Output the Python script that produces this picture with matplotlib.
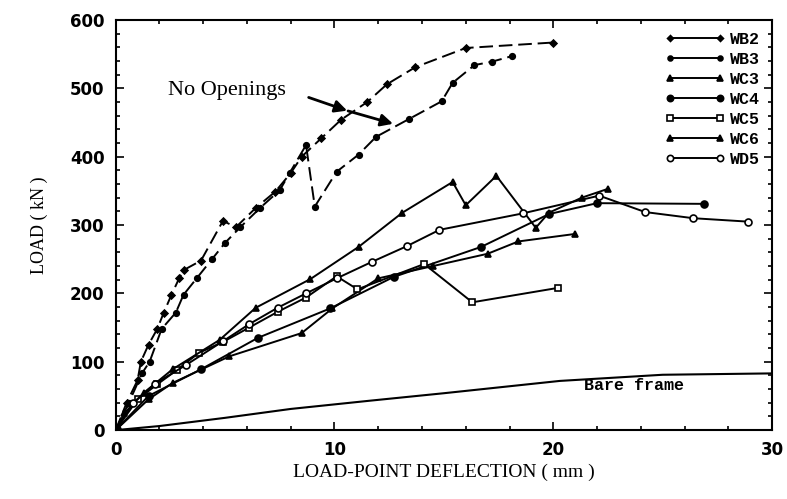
import numpy as np
import matplotlib.pyplot as plt
from matplotlib.ticker import MultipleLocator
from matplotlib.lines import Line2D

# load-deflection data, deflection in mm, load in kN
wb2_d = [0, 0.5, 1.0, 1.15, 1.5, 1.9, 2.2, 2.55, 2.9, 3.1, 3.9, 4.9, 5.5, 6.4, 7.3, 8.0, 8.5, 9.4, 10.3, 11.5, 12.4, 13.7, 16.0, 20.0]
wb2_p = [0, 40, 73, 100, 125, 148, 172, 198, 222, 234, 248, 306, 297, 325, 349, 376, 400, 427, 454, 480, 506, 531, 559, 567]

wb3_d = [0, 0.6, 1.2, 1.55, 2.1, 2.75, 3.1, 3.7, 4.4, 5.0, 5.7, 6.6, 7.5, 7.95, 8.7, 9.1, 10.1, 11.1, 11.9, 13.4, 14.9, 15.4, 16.4, 17.2, 18.1]
wb3_p = [0, 40, 83, 100, 148, 172, 198, 222, 250, 274, 297, 325, 351, 376, 417, 327, 378, 403, 429, 455, 481, 508, 534, 539, 547]

wc3_d = [0, 1.5, 2.6, 5.2, 8.5, 9.9, 12.0, 14.5, 17.0, 18.4, 21.0]
wc3_p = [0, 45, 69, 108, 142, 178, 222, 240, 258, 276, 287]

wc4_d = [0, 1.5, 3.9, 6.5, 9.8, 12.7, 16.7, 19.8, 22.0, 26.9]
wc4_p = [0, 50, 89, 135, 178, 224, 268, 316, 332, 331]

wc5_d = [0, 1.0, 1.9, 2.8, 3.8, 4.9, 6.1, 7.4, 8.7, 10.1, 11.05, 14.1, 16.3, 20.2]
wc5_p = [0, 45, 67, 88, 113, 129, 150, 173, 194, 225, 206, 243, 187, 208]

wc6_d = [0, 0.4, 1.3, 2.6, 4.75, 6.4, 8.9, 11.1, 13.1, 15.4, 16.0, 17.4, 19.2, 19.8, 21.3, 22.5]
wc6_p = [0, 25, 55, 89, 132, 179, 221, 268, 318, 363, 329, 372, 296, 318, 340, 353]

wd5_d = [0, 0.8, 1.8, 3.2, 4.9, 6.1, 7.4, 8.7, 10.1, 11.7, 13.3, 14.8, 18.6, 22.1, 24.2, 26.4, 28.9]
wd5_p = [0, 40, 68, 95, 130, 155, 179, 200, 222, 246, 269, 293, 317, 343, 319, 310, 305]

bare_d = [0, 2, 5, 8, 11.6, 15, 20.3, 25, 30]
bare_p = [0, 6, 18, 31, 43, 54, 72, 81, 83]

specs = [
    ('WB2', wb2_d, wb2_p, 'D', 3.5, 'k', (0, (7, 3))),
    ('WB3', wb3_d, wb3_p, 'o', 4, 'k', (0, (7, 3))),
    ('WC3', wc3_d, wc3_p, '^', 4.5, 'k', '-'),
    ('WC4', wc4_d, wc4_p, 'o', 5, 'k', '-'),
    ('WC5', wc5_d, wc5_p, 's', 5, 'white', '-'),
    ('WC6', wc6_d, wc6_p, '^', 4.5, 'k', '-'),
    ('WD5', wd5_d, wd5_p, 'o', 5, 'white', '-'),
]

fig = plt.figure(figsize=(7.87, 4.99), dpi=100)
ax = fig.add_axes([0.147, 0.138, 0.834, 0.822])

handles = []
for name, d, p, mk, ms, fc, ls in specs:
    ax.plot(d, p, ls=ls, lw=1.4, color='k', marker=mk, ms=ms, mfc=fc, mew=1.2)
    handles.append(Line2D([], [], ls='-', lw=1.4, color='k', marker=mk,
                          ms=ms - 0.5, mfc=fc, mew=1.2, label=name))
ax.plot(bare_d, bare_p, ls='-', lw=1.5, color='k')
ax.plot([0], [0], 'ko', ms=7)

ax.set_xlim(0, 30)
ax.set_ylim(0, 600)
ax.xaxis.set_major_locator(MultipleLocator(10))
ax.xaxis.set_minor_locator(MultipleLocator(2))
ax.yaxis.set_major_locator(MultipleLocator(100))
ax.yaxis.set_minor_locator(MultipleLocator(20))
ax.tick_params(which='both', direction='in', top=True, right=True, width=1.2)
ax.tick_params(which='major', length=6, labelsize=12, pad=8)
ax.tick_params(which='minor', length=3)
for lab in ax.get_xticklabels() + ax.get_yticklabels():
    lab.set_fontweight('bold')
    lab.set_family('DejaVu Sans')
for s in ax.spines.values():
    s.set_linewidth(1.5)

ax.set_xlabel('LOAD-POINT DEFLECTION ( mm )', family='Liberation Serif', fontsize=14, labelpad=3)
ax.set_ylabel('LOAD ( kN )', family='Liberation Serif', fontsize=13, labelpad=16)

ax.text(2.4, 497, 'No Openings', family='Liberation Serif', fontsize=16, va='center')
ax.annotate('', xy=(10.7, 466), xytext=(8.7, 488),
            arrowprops=dict(arrowstyle='-|>', color='k', lw=2, mutation_scale=18))
ax.annotate('', xy=(12.8, 447), xytext=(10.5, 468),
            arrowprops=dict(arrowstyle='-|>', color='k', lw=2, mutation_scale=18))
ax.text(21.4, 58, 'Bare frame', family='Liberation Mono', fontweight='bold', fontsize=12)

ax.legend(handles=handles, loc='upper right', frameon=False, numpoints=2, handlelength=3.6,
          prop={'family': 'Liberation Mono', 'weight': 'bold', 'size': 12},
          labelspacing=0.3, handletextpad=0.3, borderaxespad=0.3)

fig.savefig('out.png', dpi=100)
